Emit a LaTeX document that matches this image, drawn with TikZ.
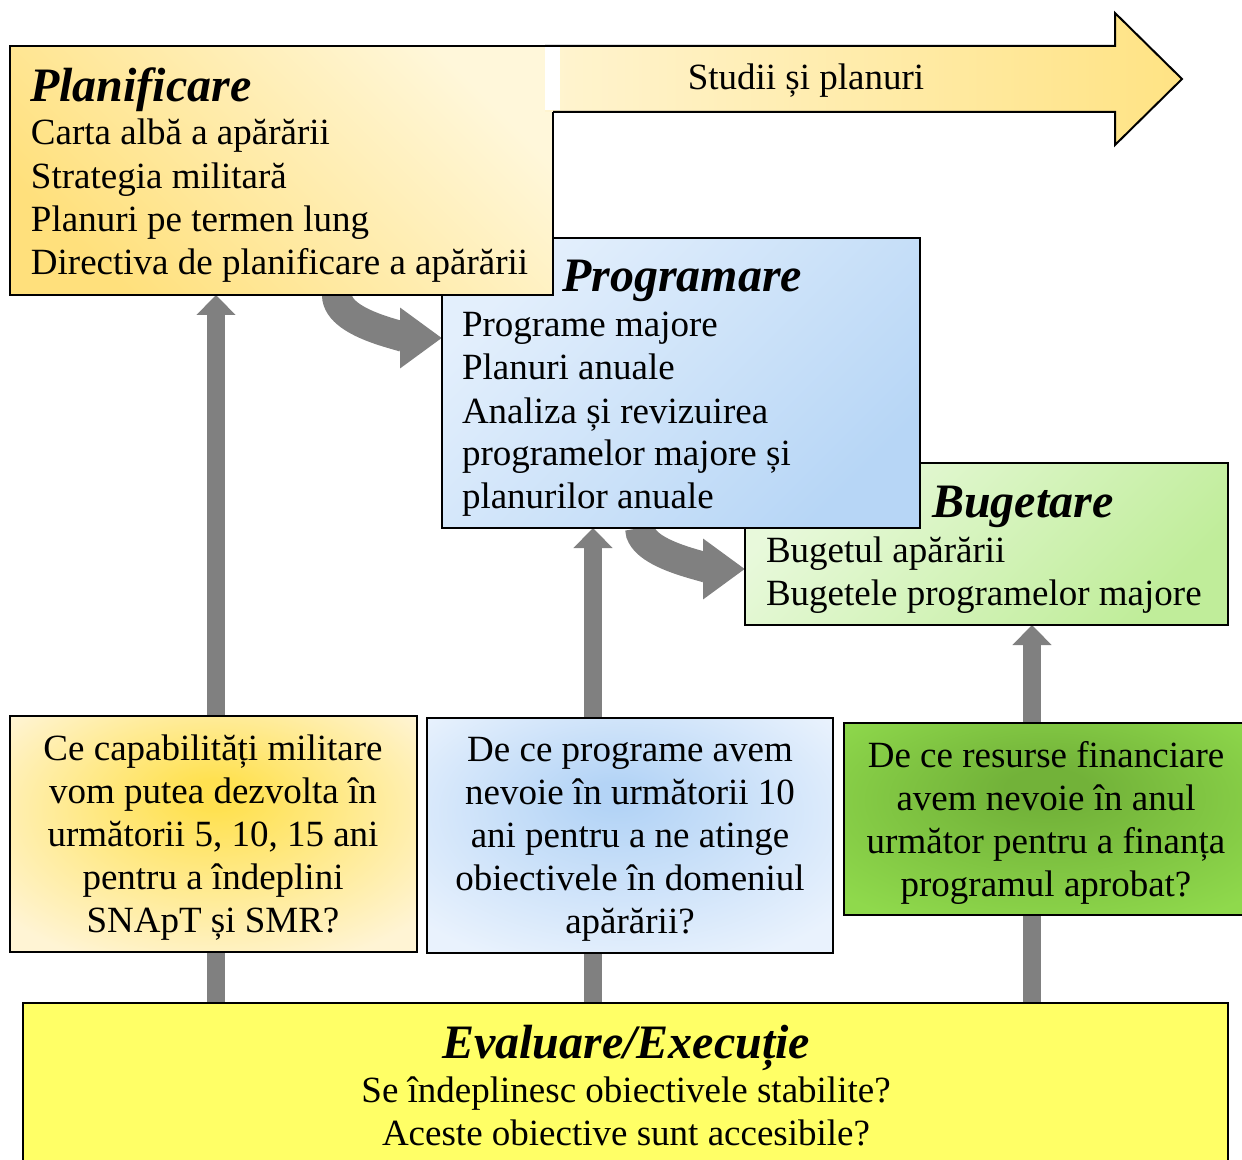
\documentclass[tikz,border=0pt]{standalone}
\usepackage{fontspec}
\setmainfont{Liberation Serif}
\usetikzlibrary{arrows.meta}

\definecolor{planLight}{HTML}{FFF7DA}
\definecolor{planDeep}{HTML}{FFE07C}
\definecolor{arrLight}{HTML}{FFF4D0}
\definecolor{arrDeep}{HTML}{FFE384}
\definecolor{progLight}{HTML}{E3EFFC}
\definecolor{progDeep}{HTML}{B7D6F6}
\definecolor{bugLight}{HTML}{E8F9DB}
\definecolor{bugDeep}{HTML}{C0ED9A}
\definecolor{qoneIn}{HTML}{FFE150}
\definecolor{qoneOut}{HTML}{FFF4D4}
\definecolor{qtwoIn}{HTML}{B4D4F6}
\definecolor{qtwoOut}{HTML}{E9F2FD}
\definecolor{qthreeIn}{HTML}{72B239}
\definecolor{qthreeOut}{HTML}{8FD94C}
\definecolor{evalFill}{HTML}{FFFF66}
\definecolor{flow}{HTML}{808080}

% soft radial fills for the three question boxes
\pgfdeclareradialshading{qoneShade}{\pgfpoint{0bp}{9bp}}{color(0bp)=(qoneIn); color(3bp)=(qoneIn); color(33bp)=(qoneOut); color(50bp)=(qoneOut)}
\pgfdeclareradialshading{qtwoShade}{\pgfpoint{-2bp}{9bp}}{color(0bp)=(qtwoIn); color(3bp)=(qtwoIn); color(33bp)=(qtwoOut); color(50bp)=(qtwoOut)}
\pgfdeclareradialshading{qthreeShade}{\pgfpoint{0bp}{9bp}}{color(0bp)=(qthreeIn); color(5bp)=(qthreeIn); color(34bp)=(qthreeOut); color(50bp)=(qthreeOut)}

\begin{document}
\begin{tikzpicture}[x=0.5pt, y=-0.5pt,
  box/.style={draw=black, line width=1pt, rectangle, inner sep=0pt, outer sep=0pt, anchor=north west},
  body/.style={font=\fontsize{18.5}{21.5}\selectfont, inner sep=0pt, outer sep=0pt},
  head/.style={font=\fontsize{24}{28}\selectfont\bfseries\itshape, inner sep=0pt, outer sep=0pt},
  rise/.style={draw=flow, line width=9pt, -{Triangle[length=10pt,width=19pt]}},
  sweep/.style={draw=flow, line width=15pt, -{Triangle[length=21pt,width=29pt]}},
]
\useasboundingbox (0,0) rectangle (1242,1160);

% column positions of the vertical feedback arrows and the curved hand-offs
\coordinate (colA) at (216,0);
\coordinate (colB) at (593,0);
\coordinate (colC) at (1032,0);
\coordinate (hopA) at (337,338);
\coordinate (hopB) at (640,569);

% ---- boxes (geometry only) ----
\path
  node[box, minimum width=483*0.5pt, minimum height=162*0.5pt] (bug) at (745,463) {}
  node[box, minimum width=478*0.5pt, minimum height=290*0.5pt] (prog) at (442,238) {}
  node[box, minimum width=543*0.5pt, minimum height=249*0.5pt] (plan) at (10,46) {}
  node[box, minimum width=407*0.5pt, minimum height=236*0.5pt] (qone) at (10,716) {}
  node[box, minimum width=406*0.5pt, minimum height=235*0.5pt] (qtwo) at (427,718) {}
  node[box, minimum width=406*0.5pt, minimum height=192*0.5pt] (qthree) at (844,723) {}
  node[box, minimum width=1205*0.5pt, minimum height=167*0.5pt] (eval) at (23,1003) {};

% ---- grey arrows, drawn underneath the boxes ----
\draw[rise] (eval.north -| colA) -- (plan.south -| colA);
\draw[rise] (eval.north -| colB) -- (prog.south -| colB);
\draw[rise] (eval.north -| colC) -- (bug.south -| colC);
\draw[sweep] (plan.south -| hopA) .. controls +(0,32) and +(-22,0) .. (prog.west |- hopA);
\draw[sweep] (prog.south -| hopB) .. controls +(0,30) and +(-20,0) .. (bug.west |- hopB);

% ---- phase boxes ----
\node[box, minimum width=483*0.5pt, minimum height=162*0.5pt,
      top color=bugLight, bottom color=bugDeep, shading angle=45] at (bug.north west) {};
\node[box, minimum width=478*0.5pt, minimum height=290*0.5pt,
      top color=progLight, bottom color=progDeep, shading angle=45] at (prog.north west) {};
\node[box, minimum width=543*0.5pt, minimum height=249*0.5pt,
      top color=planLight, bottom color=planDeep, shading angle=-45] at (plan.north west) {};

% ---- long arrow "Studii si planuri" ----
\shade[left color=arrLight, right color=arrDeep]
  (545,46) -- (1115,46) -- (1115,13) -- (1182,79) -- (1115,145) -- (1115,112) -- (545,112) -- cycle;
\draw[line width=1pt, line join=miter]
  (553,112) -- (1115,112) -- (1115,145) -- (1182,79) -- (1115,13) -- (1115,46) -- (545,46);
\fill[white] (545,47.5) rectangle (560,110.5);

% ---- question boxes ----
\shade[shading=qoneShade] (qone.north west) rectangle (qone.south east);
\draw[line width=1pt] (qone.north west) rectangle (qone.south east);
\shade[shading=qtwoShade] (qtwo.north west) rectangle (qtwo.south east);
\draw[line width=1pt] (qtwo.north west) rectangle (qtwo.south east);
\shade[shading=qthreeShade] (qthree.north west) rectangle (qthree.south east);
\draw[line width=1pt] (qthree.north west) rectangle (qthree.south east);
\node[box, minimum width=1205*0.5pt, minimum height=167*0.5pt, fill=evalFill] at (eval.north west) {};

% ---- texts ----
\node[head, anchor=base west] (planT) at (30,102) {Planificare};
\foreach \t [count=\i] in {Carta albă a apărării, Strategia militară, Planuri pe termen lung, Directiva de planificare a apărării}
  \node[body, anchor=base west] (planL\i) at (31,{145+43.3*(\i-1)}) {\t};

\node[body, anchor=base] (studii) at (806,90) {Studii și planuri};

\node[head, anchor=base west] (progT) at (562,292) {Programare};
\foreach \t [count=\i] in {Programe majore, Planuri anuale, Analiza și revizuirea, programelor majore și, planurilor anuale}
  \node[body, anchor=base west] (progL\i) at (462,{337+43*(\i-1)}) {\t};

\node[head, anchor=base west] (bugT) at (932,517) {Bugetare};
\foreach \t [count=\i] in {Bugetul apărării, Bugetele programelor majore}
  \node[body, anchor=base west] (bugL\i) at (766,{562+43*(\i-1)}) {\t};

\foreach \t [count=\i] in {Ce capabilități militare, vom putea dezvolta în, {următorii 5, 10, 15 ani}, pentru a îndeplini, SNApT și SMR?}
  \node[body, anchor=base] (qoneL\i) at (213,{760+43*(\i-1)}) {\t};

\foreach \t [count=\i] in {De ce programe avem, nevoie în următorii 10, ani pentru a ne atinge, obiectivele în domeniul, apărării?}
  \node[body, anchor=base] (qtwoL\i) at (630,{761+43*(\i-1)}) {\t};

\foreach \t [count=\i] in {De ce resurse financiare, avem nevoie în anul, următor pentru a finanța, programul aprobat?}
  \node[body, anchor=base] (qthreeL\i) at (1046,{767+43*(\i-1)}) {\t};

\node[head, anchor=base] (evalT) at (626,1058) {Evaluare/Execuție};
\node[body, anchor=base] (evalL1) at (626,1102) {Se îndeplinesc obiectivele stabilite?};
\node[body, anchor=base] (evalL2) at (626,1145) {Aceste obiective sunt accesibile?};
\end{tikzpicture}
\end{document}
